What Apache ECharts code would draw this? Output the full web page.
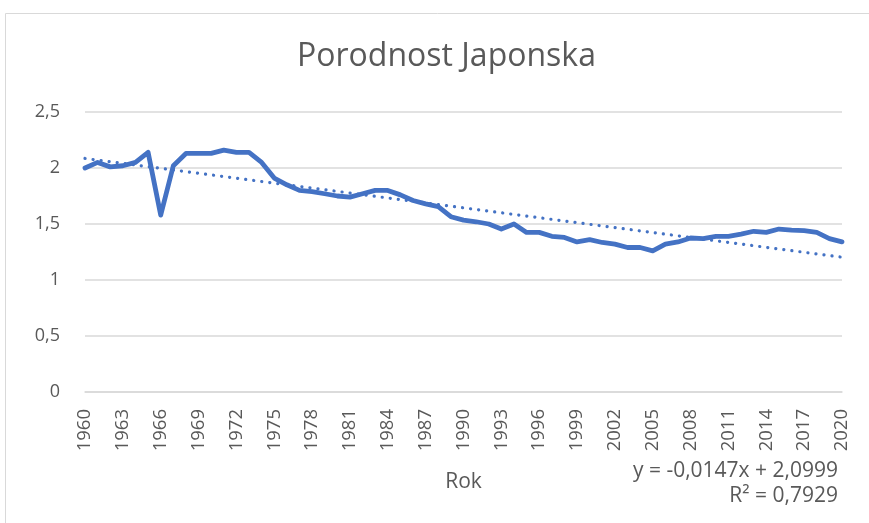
<!DOCTYPE html>
<html>
<head>
<meta charset="utf-8">
<script src="https://cdn.jsdelivr.net/npm/echarts@6/dist/echarts.min.js"></script>
<style>
  html, body { margin: 0; padding: 0; background: #fff; }
  #chart1 { width: 869px; height: 523px; }
</style>
</head>
<body>
<div id="chart1"></div>
<script>
var myChart1;
const colors = ['#4472C4'];

// years 1960..2020
const years = [];
for (var yr = 1960; yr <= 2020; yr++) years.push(String(yr));

// fertility rate
const fertility = [
    2.00, 2.05, 2.01, 2.02, 2.05, 2.14, 1.58, 2.02, 2.13, 2.13,
    2.13, 2.16, 2.14, 2.14, 2.05, 1.91, 1.85, 1.80, 1.79, 1.77,
    1.75, 1.74, 1.77, 1.80, 1.80, 1.76, 1.71, 1.68, 1.655, 1.565,
    1.535, 1.52, 1.50, 1.455, 1.50, 1.425, 1.425, 1.39, 1.38, 1.34,
    1.36, 1.335, 1.32, 1.29, 1.29, 1.26, 1.32, 1.34, 1.375, 1.37,
    1.39, 1.39, 1.41, 1.435, 1.425, 1.455, 1.445, 1.44, 1.425, 1.37,
    1.34
];

// linear trendline as printed on the chart
const trendSlope = -0.0147;
const trendIntercept = 2.0999;
const trendLabel = ['y = -0,0147x + 2,0999', 'R² = 0,7929'];

const yTicks = { min: 0, max: 2.5, interval: 0.5 };

var trend = [];
for (var i = 0; i < years.length; i++) {
    trend.push(+(trendIntercept + trendSlope * (i + 1)).toFixed(4));
}

var chartDom = document.getElementById('chart1');
myChart1 = echarts.init(chartDom);
var fontFam = '"Open Sans", "Liberation Sans", sans-serif';
var option = {
    color: colors,
    animation: false,
    title: {
        text: 'Porodnost Japonska',
        left: 292,
        top: 36,
        textStyle: {
            fontSize: 32,
            fontWeight: 'normal',
            color: '#595959',
            fontFamily: fontFam
        }
    },
    grid: {
        left: 85,
        right: 27,
        top: 112,
        bottom: 131,
        containLabel: false
    },
    xAxis: {
        type: 'category',
        data: years,
        boundaryGap: false,
        name: 'Rok',
        nameLocation: 'middle',
        nameGap: 80,
        nameTextStyle: { fontSize: 21, color: '#595959', fontFamily: fontFam },
        axisLine: { show: true, lineStyle: { color: '#d9d9d9', width: 1.5 } },
        axisTick: { show: false },
        axisLabel: {
            interval: 2,
            rotate: 90,
            margin: 17,
            fontSize: 18.5,
            color: '#595959',
            fontFamily: fontFam
        }
    },
    yAxis: {
        type: 'value',
        min: yTicks.min,
        max: yTicks.max,
        interval: yTicks.interval,
        axisLine: { show: false },
        axisTick: { show: false },
        splitLine: { lineStyle: { color: '#d9d9d9', width: 1.5 } },
        axisLabel: {
            margin: 25,
            fontSize: 18,
            color: '#595959',
            fontFamily: fontFam,
            formatter: function (v) { return String(v).replace('.', ','); }
        }
    },
    series: [
        {
            name: 'Porodnost',
            type: 'line',
            data: fertility,
            symbol: 'none',
            lineStyle: { width: 4.8, color: colors[0], cap: 'round', join: 'round' },
            z: 3
        },
        {
            name: 'Trend',
            type: 'line',
            data: trend,
            symbol: 'none',
            lineStyle: { width: 3.2, color: colors[0], type: [0.1, 8], cap: 'round' },
            z: 2
        }
    ],
    graphic: [
        {
            type: 'rect',
            shape: { x: 5.5, y: 13.5, width: 900, height: 600 },
            style: { fill: 'none', stroke: '#d9d9d9', lineWidth: 1 },
            silent: true
        },
        {
            type: 'text',
            right: 31,
            top: 461,
            style: { text: trendLabel[0], fontSize: 21, fill: '#595959', fontFamily: fontFam, align: 'right' }
        },
        {
            type: 'text',
            right: 31,
            top: 486,
            style: { text: trendLabel[1], fontSize: 21, fill: '#595959', fontFamily: fontFam, align: 'right' }
        }
    ]
};
myChart1.setOption(option);
</script>
</body>
</html>
